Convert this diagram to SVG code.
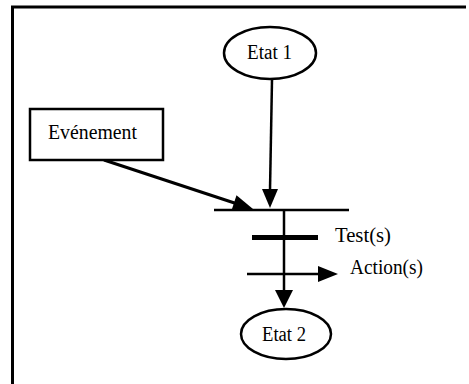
<svg xmlns="http://www.w3.org/2000/svg" width="469" height="384" viewBox="0 0 469 384">
<style>
.ln{stroke:#000;fill:none}
.nd{fill:#fff;stroke:#000;stroke-width:2.5}
.ah{fill:#000}
text{font-family:"Liberation Serif","Times New Roman",serif;fill:#000;font-size:20px}
</style>
<rect width="469" height="384" fill="#fff"/>
<g id="frame">
<path class="ln" d="M12.5,384 V7 H466" stroke-width="3"/>
</g>
<g id="connectors">
<line class="ln" x1="272" y1="80" x2="270" y2="190" stroke-width="2.5"/>
<path class="ah" d="M262,189 L278,189 L270,208 Z"/>
<line class="ln" x1="104" y1="160" x2="236" y2="203.5" stroke-width="3"/>
<path class="ah" d="M236.5,195.2 L253,209 L231.5,210.4 Z"/>
<line class="ln" x1="214" y1="210" x2="349" y2="210" stroke-width="2.5"/>
<line class="ln" x1="284" y1="210" x2="284" y2="291" stroke-width="2.5"/>
<path class="ah" d="M275,290 L293,290 L284,308 Z"/>
<line class="ln" x1="252" y1="237.5" x2="318" y2="237.5" stroke-width="5"/>
<line class="ln" x1="247" y1="274" x2="320" y2="274" stroke-width="2.5"/>
<path class="ah" d="M318,266 L338,274 L318,282 Z"/>
</g>
<g id="etat1">
<ellipse class="nd" cx="270" cy="53" rx="46" ry="26"/>
<text x="247" y="59" textLength="45" lengthAdjust="spacingAndGlyphs">Etat 1</text>
</g>
<g id="evenement">
<rect class="nd" x="30" y="109" width="133" height="51"/>
<text x="48" y="139" textLength="89" lengthAdjust="spacingAndGlyphs">Evénement</text>
</g>
<g id="transition">
<text x="335" y="242" textLength="56" lengthAdjust="spacingAndGlyphs">Test(s)</text>
<text x="350" y="274" textLength="73" lengthAdjust="spacingAndGlyphs">Action(s)</text>
</g>
<g id="etat2">
<ellipse class="nd" cx="286" cy="334" rx="45" ry="25"/>
<text x="262" y="341" textLength="44" lengthAdjust="spacingAndGlyphs">Etat 2</text>
</g>
</svg>
